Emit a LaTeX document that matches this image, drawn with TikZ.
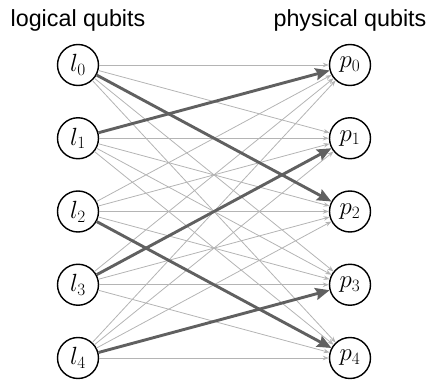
\documentclass[tikz,border=0pt]{standalone}
\usepackage{fontspec}
\newfontfamily\titlefont{Liberation Sans}
\usetikzlibrary{arrows.meta}
\definecolor{thinedge}{HTML}{B4B4B4}
\definecolor{thickedge}{HTML}{606060}
\begin{document}
\begin{tikzpicture}[x=1pt,y=-1pt,
  qubit/.style={circle,draw=black,line width=1.4pt,minimum size=41pt,inner sep=0pt,font=\fontsize{25}{28}\selectfont},
  title/.style={font=\titlefont\fontsize{23.3}{26}\selectfont,anchor=base,inner sep=0pt},
  thin/.style={draw=thinedge,line width=0.8pt,-{Stealth[length=6pt,width=4.5pt]}},
  thick/.style={draw=thickedge,line width=2.9pt,-{Stealth[length=14pt,width=12pt,inset=2pt]}}]
\useasboundingbox (0,0) rectangle (429,380);
\node[title] (tl) at (78,27) {logical qubits};
\node[title] (tp) at (350,27) {physical qubits};
\foreach \i/\y in {0/65,1/138.25,2/211.5,3/284.75,4/358}{
  \node[qubit] (l\i) at (78,\y) {$l_{\i}$};
  \node[qubit] (p\i) at (350,\y) {$p_{\i}$};
}
\foreach \i in {0,...,4}{
  \foreach \j in {0,...,4}{
    \draw[thin] (l\i) -- (p\j);
  }
}
\draw[thick] (l0) -- (p2);
\draw[thick] (l1) -- (p0);
\draw[thick] (l2) -- (p4);
\draw[thick] (l3) -- (p1);
\draw[thick] (l4) -- (p3);
\end{tikzpicture}
\end{document}
